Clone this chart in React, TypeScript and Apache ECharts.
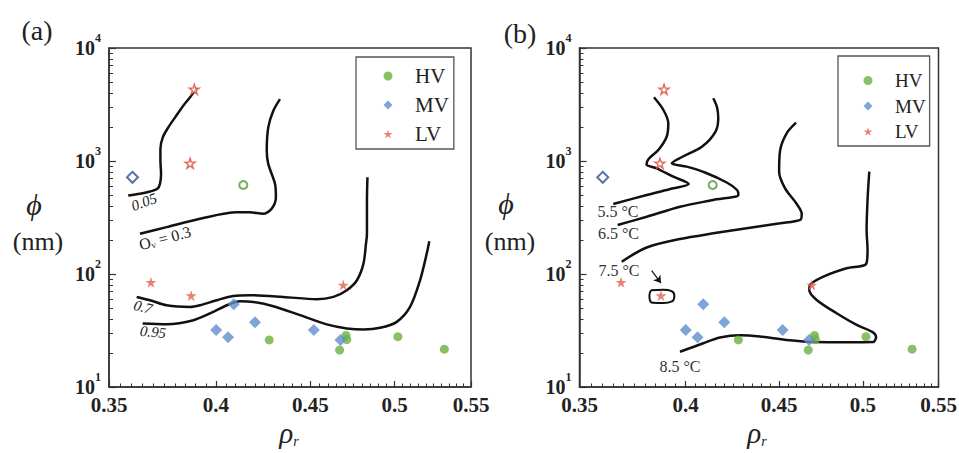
import React, { useEffect, useRef } from 'react';
import * as echarts from 'echarts';

// ---------------- data ----------------
const xMajorTicks = [0.35, 0.4, 0.45, 0.5, 0.55];
const xMinorTicks = [0.355, 0.36, 0.365, 0.37, 0.375, 0.38, 0.385, 0.39, 0.395, 0.405, 0.41, 0.415, 0.42, 0.425, 0.43, 0.435, 0.44, 0.445, 0.455, 0.46, 0.465, 0.47, 0.475, 0.48, 0.485, 0.49, 0.495, 0.505, 0.51, 0.515, 0.52, 0.525, 0.53, 0.535, 0.54, 0.545];
const yMajorTicks = [10, 100, 1000, 10000];
const yMinorTicks = [20, 30, 40, 50, 60, 70, 80, 90, 200, 300, 400, 500, 600, 700, 800, 900, 2000, 3000, 4000, 5000, 6000, 7000, 8000, 9000];

const hvX = [0.4275, 0.4668, 0.4705, 0.471, 0.502, 0.532];
const hvY = [26.1, 21.2, 28.6, 26.3, 27.9, 21.6];
const hvOpenX = [0.4139];
const hvOpenY = [613];
const mvX = [0.4001, 0.4061, 0.409, 0.42, 0.452, 0.4673];
const mvY = [31.9, 27.5, 53.9, 37.4, 31.9, 26.1];
const mvOpenX = [0.3604];
const mvOpenY = [717];
const lvX = [0.3688, 0.3878, 0.4689];
const lvY = [84.4, 64.3, 80];
const lvOpenX = [0.3893, 0.3873];
const lvOpenY = [4309, 955];

// panel (a): contours of O_v
const curveA005 = [[0.3585, 495], [0.3638, 512], [0.3684, 537], [0.3718, 567], [0.373, 628], [0.3735, 769], [0.3732, 1008], [0.3732, 1279], [0.3743, 1619], [0.3769, 1984], [0.3801, 2431], [0.384, 3083], [0.3872, 3650], [0.3905, 4417]];
const curveA03 = [[0.3638, 227], [0.3761, 260], [0.3921, 308], [0.4105, 352], [0.4173, 352], [0.4243, 341], [0.4288, 378], [0.4311, 478], [0.4306, 628], [0.427, 943], [0.4262, 1235], [0.427, 1984], [0.4297, 2786], [0.4333, 3532]];
const curveA07 = [[0.3623, 62.7], [0.3684, 58.6], [0.3761, 52.9], [0.3872, 51.1], [0.3921, 52.9], [0.4004, 58.6], [0.4087, 63.9], [0.4173, 64.9], [0.4351, 62.7], [0.4537, 59.8], [0.4632, 62.7], [0.471, 71.8], [0.477, 88], [0.4809, 123.5], [0.4824, 185], [0.483, 227], [0.483, 447], [0.4833, 718]];
const curveA095 = [[0.365, 36.5], [0.3761, 36.0], [0.3889, 39.0], [0.3987, 46.2], [0.4055, 52.9], [0.4122, 57.4], [0.4191, 56.6], [0.4297, 51.9], [0.4443, 43.2], [0.4593, 35.8], [0.471, 33.0], [0.4809, 32.3], [0.491, 33.4], [0.5013, 37.7], [0.5097, 51.1], [0.5161, 88], [0.5204, 151], [0.5221, 195]];

// panel (b): contours of temperature
const curveB55 = [[0.3652, 416], [0.3809, 500], [0.3939, 573], [0.4016, 626], [0.3939, 726], [0.3857, 862], [0.3808, 930], [0.3818, 1040], [0.3865, 1251], [0.3906, 1641], [0.3914, 2156], [0.389, 2827], [0.3844, 3662]];
const curveB65 = [[0.3672, 271], [0.3809, 321], [0.3972, 394], [0.4142, 452], [0.4275, 500], [0.4268, 554], [0.4213, 645], [0.4099, 791], [0.4006, 891], [0.3931, 954], [0.3982, 1085], [0.4083, 1338], [0.4154, 1824], [0.4168, 2387], [0.4162, 2975], [0.4142, 3589]];
const curveB75 = [[0.3691, 128.5], [0.3809, 171.6], [0.3972, 204], [0.4142, 229], [0.432, 254], [0.4506, 281], [0.4621, 301], [0.463, 340], [0.4601, 416], [0.4534, 573], [0.45, 804], [0.4506, 1251], [0.4543, 1759], [0.4597, 2183]];
const curveB75Loop = [[0.383, 71.8], [0.389, 72.4], [0.393, 70.5], [0.3944, 64], [0.3932, 57.2], [0.389, 55.3], [0.3838, 55.6], [0.3824, 59], [0.3822, 65], [0.383, 71.8]];
const curveB85 = [[0.3972, 20.5], [0.409, 24.4], [0.4177, 27.4], [0.4284, 28.7], [0.4393, 28.0], [0.4543, 26.1], [0.4708, 25.0], [0.4899, 24.9], [0.5066, 25.0], [0.5084, 27.7], [0.5057, 30.9], [0.4962, 35.4], [0.4838, 44.9], [0.4718, 58.9], [0.4674, 72.2], [0.4678, 79.9], [0.4758, 94.7], [0.4899, 112.3], [0.5021, 122.6], [0.503, 163], [0.5024, 245], [0.503, 452], [0.5041, 804]];
const arrowFrom = [0.3833, 107];
const arrowTo = [0.3878, 83.2];

// ---------------- styling ----------------
const FONT = "'Liberation Serif', 'Times New Roman', serif";
const STAR = 'path://M50,2 L61.2,36.6 L97.6,36.6 L68.2,58 L79.4,92.6 L50,71.2 L20.6,92.6 L31.8,58 L2.4,36.6 L38.8,36.6 Z';
const HV_C = '#6ab23e';
const MV_C = '#5f8dcb';
const LV_C = '#e0644f';
const AX = '#333';
const OFF = 480; // x offset of panel (b)

const zip = (xs: number[], ys: number[]) => xs.map((x, i) => [x, ys[i]]);

function makeX(gridIndex: number) {
  return [
    {
      type: 'log', logBase: 10, min: 0.35, max: 0.55, position: 'bottom', gridIndex,
      axisLine: { show: true, onZero: false, lineStyle: { color: AX, width: 1.5 } },
      axisTick: { show: true, inside: true, length: 6, customValues: xMajorTicks, lineStyle: { color: AX, width: 1.2 } },
      axisLabel: {
        show: true, customValues: xMajorTicks, margin: 7,
        formatter: (v: number) => String(Number(Number(v).toFixed(3))),
        fontSize: 21, fontWeight: 'bold', fontFamily: FONT, color: '#222',
      },
      splitLine: { show: false },
    },
    {
      type: 'log', logBase: 10, min: 0.35, max: 0.55, position: 'bottom', gridIndex,
      axisLine: { show: false, onZero: false },
      axisTick: { show: true, inside: true, length: 3.5, customValues: xMinorTicks, lineStyle: { color: AX, width: 1 } },
      axisLabel: { show: false },
      splitLine: { show: false },
    },
  ];
}

function makeY(gridIndex: number) {
  return [
    {
      type: 'log', logBase: 10, min: 10, max: 10000, position: 'left', gridIndex,
      axisLine: { show: true, onZero: false, lineStyle: { color: AX, width: 1.5 } },
      axisTick: { show: true, inside: true, length: 7, customValues: yMajorTicks, lineStyle: { color: AX, width: 1.2 } },
      axisLabel: {
        show: true, customValues: yMajorTicks, margin: 8,
        formatter: (v: number) => `{b|10}{s|${Math.round(Math.log10(v))}}`,
        rich: {
          b: { fontSize: 20, fontWeight: 'bold', fontFamily: FONT, color: '#222', lineHeight: 20, verticalAlign: 'middle' },
          s: { fontSize: 12, fontWeight: 'bold', fontFamily: FONT, color: '#222', lineHeight: 12, padding: [0, 0, 20, 0], verticalAlign: 'middle' },
        },
      },
      splitLine: { show: false },
    },
    {
      type: 'log', logBase: 10, min: 10, max: 10000, position: 'left', gridIndex,
      axisLine: { show: false, onZero: false },
      axisTick: { show: true, inside: true, length: 4, customValues: yMinorTicks, lineStyle: { color: AX, width: 1 } },
      axisLabel: { show: false },
      splitLine: { show: false },
    },
  ];
}

function scatterSeries(ax: number) {
  const a = { xAxisIndex: ax, yAxisIndex: ax, z: 4 };
  return [
    { type: 'scatter', name: 'HV', data: zip(hvX, hvY), symbol: 'circle', symbolSize: 9, itemStyle: { color: HV_C }, ...a },
    { type: 'scatter', name: 'MV', data: zip(mvX, mvY), symbol: 'diamond', symbolSize: 12, itemStyle: { color: MV_C }, ...a },
    { type: 'scatter', name: 'LV', data: zip(lvX, lvY), symbol: STAR, symbolSize: 11, itemStyle: { color: LV_C }, ...a },
    { type: 'scatter', name: 'HV open', data: zip(hvOpenX, hvOpenY), symbol: 'circle', symbolSize: 8, itemStyle: { color: '#fff', borderColor: '#4e9a34', borderWidth: 2 }, ...a },
    { type: 'scatter', name: 'MV open', data: zip(mvOpenX, mvOpenY), symbol: 'diamond', symbolSize: 11, itemStyle: { color: '#fff', borderColor: '#2f4f95', borderWidth: 2 }, ...a },
    { type: 'scatter', name: 'LV open', data: zip(lvOpenX, lvOpenY), symbol: STAR, symbolSize: 10, itemStyle: { color: '#fff', borderColor: '#d8432d', borderWidth: 1.4 }, ...a },
  ];
}

function lineSeries(name: string, data: number[][], ax: number, extra: any = {}) {
  return {
    type: 'line', name, data, xAxisIndex: ax, yAxisIndex: ax, showSymbol: false, symbol: 'none', smooth: 0.3,
    lineStyle: { color: '#111', width: 2.5 }, z: 3, silent: true, ...extra,
  };
}

function legendOf(left: number, top: number, fontSize: number, padding: number[], gap: number, textPad: number) {
  return {
    data: ['HV', 'MV', 'LV'], orient: 'vertical', left, top, padding, itemGap: gap,
    itemWidth: 9, itemHeight: 9, borderColor: '#555', borderWidth: 1.3, backgroundColor: '#fff',
    selectedMode: false,
    textStyle: { fontSize, fontFamily: FONT, color: '#222', lineHeight: fontSize + 1, padding: [0, 0, 0, textPad] },
  };
}

function rhoTitle(x: number) {
  return {
    type: 'text', x, y: 433, z: 10,
    style: {
      text: '{r|ρ}{s|r}', align: 'center', verticalAlign: 'middle',
      rich: {
        r: { fontSize: 29, lineHeight: 28, fontStyle: 'italic', fontFamily: FONT, fill: '#222', verticalAlign: 'middle' },
        s: { fontSize: 14, lineHeight: 14, fontStyle: 'italic', fontFamily: FONT, fill: '#222', padding: [16, 0, 0, 0], verticalAlign: 'middle' },
      },
    },
  };
}

function txt(text: string, x: number, y: number, fontSize: number, extra: any = {}, rot = 0) {
  return {
    type: 'text', x, y, rotation: rot, z: 10,
    style: { text, align: 'center', verticalAlign: 'middle', fontSize, fontFamily: FONT, fill: '#222', ...extra },
  };
}

const option: any = {
  animation: false,
  backgroundColor: '#fff',
  grid: [
    { left: 109, top: 48, width: 362, height: 339, show: true, borderColor: AX, borderWidth: 1.5, outerBoundsMode: 'none', containLabel: false },
    { left: OFF + 99.5, top: 48, width: 359, height: 339, show: true, borderColor: AX, borderWidth: 1.5, outerBoundsMode: 'none', containLabel: false },
  ],
  xAxis: [...makeX(0), ...makeX(1)],
  yAxis: [...makeY(0), ...makeY(1)],
  legend: [
    legendOf(356, 57, 21, [8, 5, 4, 27.5], 7, 17.5),
    legendOf(OFF + 358, 56, 19, [14.5, 4, 4.5, 25.5], 5.5, 17.5),
  ],
  series: [
    lineSeries('Ov 0.05', curveA005, 0),
    lineSeries('Ov 0.3', curveA03, 0),
    lineSeries('Ov 0.7', curveA07, 0),
    lineSeries('Ov 0.95', curveA095, 0),
    ...scatterSeries(0),
    lineSeries('T 5.5', curveB55, 2),
    lineSeries('T 6.5', curveB65, 2),
    lineSeries('T 7.5', curveB75, 2),
    lineSeries('T 7.5 loop', curveB75Loop, 2, {
      smooth: 0.5,
      lineStyle: { color: '#111', width: 2 },
      markLine: {
        silent: true, symbol: ['none', 'arrow'], symbolSize: 7,
        label: { show: false },
        lineStyle: { color: '#111', width: 1.2, type: 'solid', curveness: 0.45 },
        data: [[{ coord: arrowFrom }, { coord: arrowTo }]],
      },
    }),
    lineSeries('T 8.5', curveB85, 2),
    ...scatterSeries(2),
  ],
  graphic: [
    txt('(a)', 37, 30, 28),
    txt('ϕ', 34, 204, 30, { fontStyle: 'italic' }),
    txt('(nm)', 38, 241, 26),
    rhoTitle(289),
    txt('0.05', 144, 202, 15, { fontStyle: 'italic' }, 0.35),
    {
      type: 'text', x: 165, y: 238, rotation: 0.26, z: 10,
      style: {
        text: '{t|O}{v|v}{t| = 0.3}', align: 'center', verticalAlign: 'middle',
        rich: {
          t: { fontSize: 16, fontFamily: FONT, fill: '#222', verticalAlign: 'middle' },
          v: { fontSize: 9, fontFamily: FONT, fill: '#222', padding: [8, 0, 0, 0], verticalAlign: 'middle' },
        },
      },
    },
    txt('0.7', 143, 307, 15, { fontStyle: 'italic' }, -0.26),
    txt('0.95', 153, 332, 15, { fontStyle: 'italic' }, -0.1),
    txt('(b)', OFF + 40, 33, 28),
    txt('ϕ', OFF + 26, 203, 30, { fontStyle: 'italic' }),
    txt('(nm)', OFF + 30, 241, 26),
    rhoTitle(OFF + 277),
    txt('5.5 °C', OFF + 138, 211.5, 16, { fill: '#333' }),
    txt('6.5 °C', OFF + 138.5, 233.5, 16, { fill: '#333' }),
    txt('7.5 °C', OFF + 139, 270, 16, { fill: '#333' }),
    txt('8.5 °C', OFF + 200, 366, 16, { fill: '#333' }),
  ],
};

export default function App() {
  const ref = useRef<HTMLDivElement>(null);
  useEffect(() => {
    const chart = echarts.init(ref.current as HTMLDivElement, null, { renderer: 'svg' });
    chart.setOption(option);
    return () => chart.dispose();
  }, []);
  return <div ref={ref} style={{ position: 'fixed', left: 0, top: 0, width: 959, height: 453, background: '#fff' }} />;
}
